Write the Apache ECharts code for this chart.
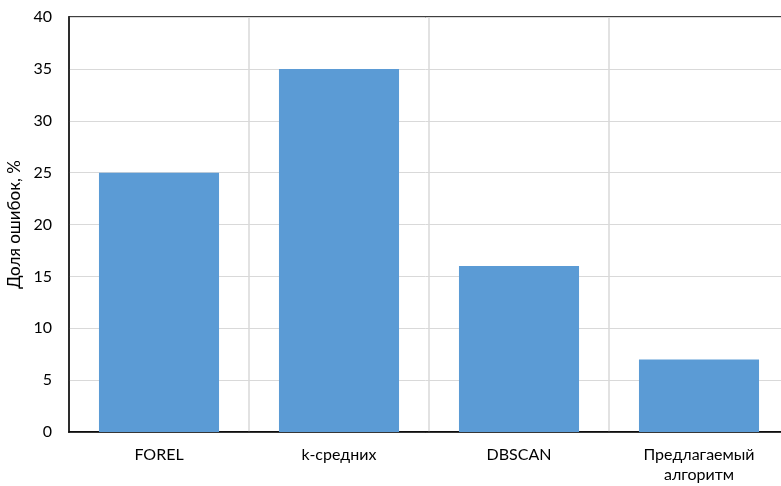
<!DOCTYPE html>
<html>
<head>
<meta charset="utf-8">
<script src="https://cdn.jsdelivr.net/npm/echarts@6/dist/echarts.min.js"></script>
<style>
  html, body { margin: 0; padding: 0; background: #fff; }
  #chart { width: 781px; height: 486px; }
</style>
</head>
<body>
<div id="chart"></div>
<script>
// Clustering methods and their error rates
const categories = ['FOREL', 'k-средних', 'DBSCAN', 'Предлагаемый\nалгоритм'];
const errorRates = [25, 35, 16, 7];
const yTicks = { min: 0, max: 40, step: 5 };
const yAxisTitle = 'Доля ошибок, %';

const font = 'Lato, "Open Sans", sans-serif';
const chart = echarts.init(document.getElementById('chart'));

chart.setOption({
  animation: false,
  grid: {
    left: 69, right: -8, top: 17, bottom: 54,
    outerBoundsMode: 'none',
    containLabel: false,
    show: true, borderColor: '#000', borderWidth: 1.5, backgroundColor: 'transparent'
  },
  xAxis: {
    type: 'category',
    data: categories,
    axisLine: { lineStyle: { color: '#000', width: 1.5 } },
    axisTick: { show: false },
    splitLine: { show: true, lineStyle: { color: '#d9d9d9', width: 1.5 } },
    axisLabel: { color: '#000', fontSize: 16, fontFamily: font, margin: 13, lineHeight: 20 }
  },
  yAxis: {
    type: 'value',
    min: yTicks.min, max: yTicks.max, interval: yTicks.step,
    name: yAxisTitle,
    nameLocation: 'middle',
    nameGap: 41,
    nameTextStyle: { color: '#000', fontSize: 17, fontFamily: font },
    axisLine: { show: true, lineStyle: { color: '#000', width: 1.5 } },
    axisTick: { show: false },
    splitLine: { lineStyle: { color: '#d9d9d9', width: 1 } },
    axisLabel: { color: '#000', fontSize: 16, fontFamily: font, margin: 17 }
  },
  series: [{
    type: 'bar',
    data: errorRates,
    barWidth: '66.7%',
    itemStyle: { color: '#5b9bd5' }
  }]
});
</script>
</body>
</html>
